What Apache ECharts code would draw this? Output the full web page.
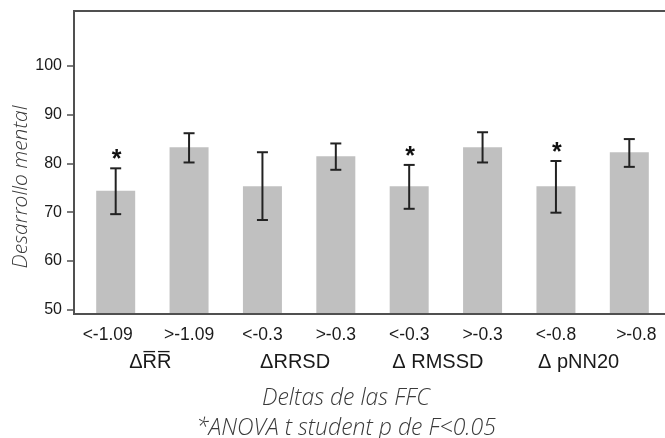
<!DOCTYPE html>
<html>
<head>
<meta charset="utf-8">
<script src="https://cdn.jsdelivr.net/npm/echarts@6/dist/echarts.min.js"></script>
<style>
html,body{margin:0;padding:0;background:#fff;}
#c{width:665px;height:438px;}
</style>
</head>
<body>
<div id="c"></div>
<script>
const categories = ['<-1.09', '>-1.09', '<-0.3', '>-0.3', '<-0.3', '>-0.3', '<-0.8', '>-0.8'];
const groups = ['\u0394R\u0305R\u0305', '\u0394RRSD', '\u0394 RMSSD', '\u0394 pNN20'];
const means = [74.4, 83.3, 75.3, 81.5, 75.3, 83.3, 75.3, 82.3];
const errLow = [69.6, 80.2, 68.4, 78.7, 70.7, 80.2, 69.9, 79.3];
const errHigh = [79.0, 86.2, 82.3, 84.1, 79.7, 86.4, 80.5, 85.0];
const significant = [1, 0, 0, 0, 1, 0, 1, 0];
const yTicks = [50, 60, 70, 80, 90, 100];
const yMin = 49.12, yMax = 111.27;
const xTitle = 'Deltas de las FFC';
const note = '*ANOVA t student p de F<0.05';
const yTitle = 'Desarrollo mental';

const SANS = "'Liberation Sans', Arial, sans-serif";
const chart = echarts.init(document.getElementById('c'), null, {renderer: 'canvas'});

const catShift = [-8, 0, 0, 0, 0, 0, 0, 7];
const groupShift = [-2, -4, -8, -14];
function richFor(shifts, size, family) {
  const r = {};
  shifts.forEach((s, i) => {
    r['s' + i] = {
      fontSize: size, fontFamily: family, color: '#1a1a1a',
      padding: s < 0 ? [0, -2 * s, 0, 0] : [0, 0, 0, 2 * s]
    };
  });
  return r;
}

const errData = categories.map((c, i) => [i, errLow[i], errHigh[i], significant[i]]);

const option = {
  animation: false,
  grid: [
    {left: 74, right: -10, top: 11, bottom: 124, show: true, borderColor: '#505050', borderWidth: 2,
      backgroundColor: 'transparent', outerBoundsMode: 'none', containLabel: false},
    {left: 79, right: -1, top: 11, bottom: 124, outerBoundsMode: 'none', containLabel: false}
  ],
  xAxis: [
    {gridIndex: 0, type: 'value', show: false, min: 0, max: 1},
    {gridIndex: 1, type: 'category', data: categories, z: 10, position: 'bottom',
      axisLine: {show: true, lineStyle: {color: '#505050', width: 2}},
      axisTick: {show: false},
      axisLabel: {margin: 12, interval: 0,
        formatter: (v, i) => '{s' + i + '|' + v + '}',
        rich: richFor(catShift, 17.5, SANS)}
    },
    {gridIndex: 1, type: 'category', data: groups, position: 'bottom', offset: 0,
      axisLine: {show: false}, axisTick: {show: false},
      axisLabel: {margin: 38, interval: 0,
        formatter: (v, i) => '{s' + i + '|' + v + '}',
        rich: richFor(groupShift, 20, SANS)}
    }
  ],
  yAxis: [
    {gridIndex: 0, type: 'value', min: yMin, max: yMax,
      axisLine: {show: false},
      splitLine: {show: false},
      axisTick: {show: true, length: 7, customValues: yTicks, lineStyle: {color: '#505050', width: 1.5}},
      axisLabel: {customValues: yTicks, margin: 12, fontSize: 16, fontFamily: SANS, color: '#1a1a1a'}
    },
    {gridIndex: 1, type: 'value', min: yMin, max: yMax, show: false, splitLine: {show: false}}
  ],
  series: [
    {type: 'bar', xAxisIndex: 1, yAxisIndex: 1, data: means, barWidth: 39,
      itemStyle: {color: '#c0c0c0'}},
    {type: 'custom', xAxisIndex: 1, yAxisIndex: 1, data: errData, z: 5,
      renderItem: function (params, api) {
        const i = api.value(0);
        const lo = api.coord([i, api.value(1)]);
        const hi = api.coord([i, api.value(2)]);
        const hw = 5.5;
        const st = {stroke: '#222', lineWidth: 2};
        const children = [
          {type: 'line', shape: {x1: hi[0], y1: hi[1], x2: lo[0], y2: lo[1]}, style: st},
          {type: 'line', shape: {x1: hi[0] - hw, y1: hi[1], x2: hi[0] + hw, y2: hi[1]}, style: st},
          {type: 'line', shape: {x1: lo[0] - hw, y1: lo[1], x2: lo[0] + hw, y2: lo[1]}, style: st}
        ];
        if (api.value(3)) {
          children.push({type: 'text', x: hi[0] + 1, y: hi[1] - 8,
            style: {text: '*', font: 'bold 25px "Liberation Sans"', fill: '#111', align: 'center', verticalAlign: 'middle'}});
        }
        return {type: 'group', children: children};
      }
    }
  ],
  graphic: [
    {type: 'text', x: 21, y: 187, rotation: Math.PI / 2,
      style: {text: yTitle, font: 'italic 300 21px "Open Sans"', fill: '#3a3a3a', align: 'center', verticalAlign: 'middle'}},
    {type: 'text', x: 346, y: 398,
      style: {text: xTitle, font: 'italic 300 23px "Open Sans"', fill: '#3a3a3a', align: 'center', verticalAlign: 'middle'}},
    {type: 'text', x: 346, y: 428,
      style: {text: note, font: 'italic 300 23px "Open Sans"', fill: '#3a3a3a', align: 'center', verticalAlign: 'middle'}}
  ]
};
chart.setOption(option);
</script>
</body>
</html>
